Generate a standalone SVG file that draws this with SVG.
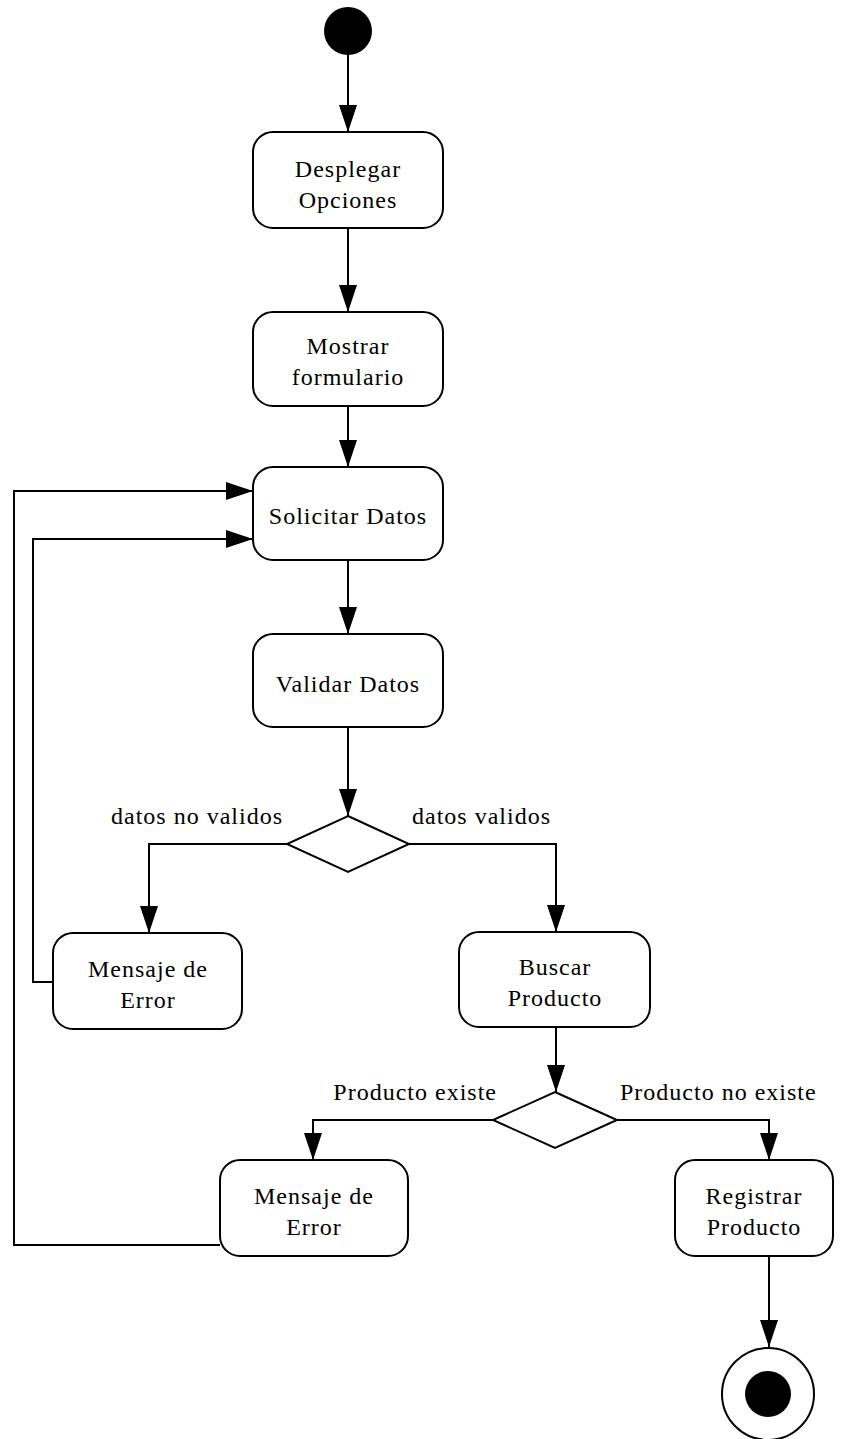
<svg xmlns="http://www.w3.org/2000/svg" width="856" height="1439" viewBox="0 0 856 1439">
<style>
.box{fill:#fff;stroke:#000;stroke-width:2}
.dia{fill:#fff;stroke:#000;stroke-width:2}
.t{font-family:"Liberation Serif","Times New Roman","DejaVu Serif",serif;font-size:24px;letter-spacing:1px;fill:#000;text-anchor:middle}
.lbl{font-family:"Liberation Serif","Times New Roman","DejaVu Serif",serif;font-size:24px;letter-spacing:1px;fill:#000}
.c{fill:none;stroke:#000;stroke-width:2}
</style>
<defs>
<marker id="ah" markerUnits="userSpaceOnUse" viewBox="0 0 27 18" refX="27" refY="9" markerWidth="27" markerHeight="18" orient="auto">
<path d="M0,0 L27,9 L0,18 z" fill="#000"/>
</marker>
</defs>
<rect width="856" height="1439" fill="#fff"/>
<g id="connectors">
<path class="c" d="M348,55 V132" marker-end="url(#ah)"/>
<path class="c" d="M348,228 V312" marker-end="url(#ah)"/>
<path class="c" d="M348,406 V467" marker-end="url(#ah)"/>
<path class="c" d="M348,560 V634" marker-end="url(#ah)"/>
<path class="c" d="M348,727 V816" marker-end="url(#ah)"/>
<path class="c" d="M287,844 H149 V933" marker-end="url(#ah)"/>
<path class="c" d="M409,844 H556 V932" marker-end="url(#ah)"/>
<path class="c" d="M53,982 H33 V539 H253" marker-end="url(#ah)"/>
<path class="c" d="M556,1027 V1092" marker-end="url(#ah)"/>
<path class="c" d="M493,1120 H313 V1160" marker-end="url(#ah)"/>
<path class="c" d="M617,1120 H769 V1160" marker-end="url(#ah)"/>
<path class="c" d="M220,1245 H14 V491 H253" marker-end="url(#ah)"/>
<path class="c" d="M769,1256 V1347" marker-end="url(#ah)"/>
<text class="lbl" x="283" y="824" text-anchor="end">datos no validos</text>
<text class="lbl" x="412" y="824">datos validos</text>
<text class="lbl" x="497" y="1100" text-anchor="end">Producto existe</text>
<text class="lbl" x="620" y="1100">Producto no existe</text>
</g>
<g id="start"><circle cx="348" cy="31" r="24" fill="#000"/></g>
<g id="desplegar">
<rect class="box" x="253" y="132" width="190" height="96" rx="20"/>
<text class="t" x="348" y="177">Desplegar</text>
<text class="t" x="348" y="208">Opciones</text>
</g>
<g id="mostrar">
<rect class="box" x="253" y="312" width="190" height="94" rx="20"/>
<text class="t" x="348" y="354">Mostrar</text>
<text class="t" x="348" y="385">formulario</text>
</g>
<g id="solicitar">
<rect class="box" x="253" y="467" width="190" height="93" rx="20"/>
<text class="t" x="348" y="524">Solicitar Datos</text>
</g>
<g id="validar">
<rect class="box" x="253" y="634" width="190" height="93" rx="20"/>
<text class="t" x="348" y="692">Validar Datos</text>
</g>
<g id="decision1"><polygon class="dia" points="348,816 409,844 348,872 287,844"/></g>
<g id="error1">
<rect class="box" x="53" y="933" width="189" height="96" rx="20"/>
<text class="t" x="148" y="977">Mensaje de</text>
<text class="t" x="148" y="1008">Error</text>
</g>
<g id="buscar">
<rect class="box" x="459" y="932" width="191" height="95" rx="20"/>
<text class="t" x="555" y="975">Buscar</text>
<text class="t" x="555" y="1006">Producto</text>
</g>
<g id="decision2"><polygon class="dia" points="555,1092 617,1120 555,1148 493,1120"/></g>
<g id="error2">
<rect class="box" x="220" y="1160" width="188" height="96" rx="20"/>
<text class="t" x="314" y="1204">Mensaje de</text>
<text class="t" x="314" y="1235">Error</text>
</g>
<g id="registrar">
<rect class="box" x="675" y="1160" width="158" height="96" rx="20"/>
<text class="t" x="754" y="1204">Registrar</text>
<text class="t" x="754" y="1235">Producto</text>
</g>
<g id="end">
<circle cx="768" cy="1394" r="46" fill="#fff" stroke="#000" stroke-width="2"/>
<circle cx="768" cy="1394" r="23" fill="#000"/>
</g>
</svg>
